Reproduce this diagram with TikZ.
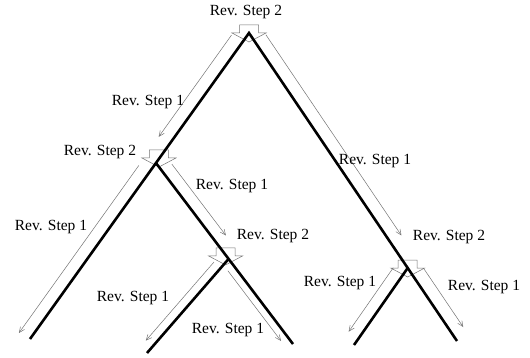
\documentclass[tikz,border=0pt]{standalone}
\usepackage{fontspec}
\setmainfont{Liberation Serif}
\usetikzlibrary{calc,arrows.meta}
\newcommand{\revarrow}[6]{%
  \coordinate (#1#2o) at ($(#1)!#5!#6:(#2)$);
  \coordinate (#1#2f) at ($(#2)+(#1#2o)-(#1)$);
  \coordinate (#1#2s) at ($(#1#2o)!#3!(#1#2f)$);
  \coordinate (#1#2e) at ($(#1#2o)!#4!(#1#2f)$);
  \draw[revline] (#1#2s) -- (#1#2e);}
\begin{document}
\begin{tikzpicture}[x=1pt,y=-1pt,
  branch/.style={line width=2.6pt,line join=miter},
  revline/.style={draw=black!55,line width=0.5pt,-{Straight Barb[length=5.5pt,width=5pt]}},
  blockarrow/.style={draw=black!55,line width=0.5pt,fill=white},
  lbl/.style={font=\fontsize{15.5}{18}\selectfont,inner sep=0pt},
  pics/revblock/.style={code={\draw[blockarrow] (-9.5,-11) -- (9.5,-11) -- (9.5,-3) -- (17,-3) -- (0,6) -- (-17,-3) -- (-9.5,-3) -- cycle;}}]
\useasboundingbox (0,0) rectangle (530,358);
% tree vertices and leaves
\coordinate (R) at (249,33);
\coordinate (LL) at (30,339);
\coordinate (CR) at (457,341);
\coordinate (A) at ($(R)!0.4248!(LL)$);
\coordinate (C) at ($(R)!0.763!(CR)$);
\coordinate (BR) at (293,344);
\coordinate (B) at ($(A)!0.53!(BR)$);
\coordinate (BL) at (147,353);
\coordinate (CL) at (354,345);
% block arrows
\pic at ($(R)+(0,3)$) {revblock};
\pic at ($(A)+(3,-2)$) {revblock};
\pic at ($(B)+(-3,0)$) {revblock};
\pic at ($(C)+(0,3)$) {revblock};
% thin arrows
\revarrow{R}{A}{12pt}{137pt}{13pt}{-90}
\revarrow{R}{C}{11pt}{253pt}{13pt}{90}
\revarrow{A}{LL}{12pt}{218pt}{12.5pt}{-90}
\revarrow{A}{B}{10.5pt}{100pt}{12pt}{90}
\revarrow{B}{BL}{12pt}{116pt}{9pt}{-90}
\revarrow{B}{BR}{9pt}{97pt}{7.7pt}{-90}
\revarrow{C}{CL}{8pt}{86pt}{12pt}{-90}
\revarrow{C}{CR}{10pt}{80pt}{13pt}{90}
% thick branches
\draw[branch] (LL) -- (R) -- (CR);
\draw[branch] (A) -- (BR);
\draw[branch] (BL) -- (B);
\draw[branch] (CL) -- (C);
% labels
\node[lbl] (l1) at (246,12) {Rev. Step 2};
\node[lbl] (l2) at (148,102) {Rev. Step 1};
\node[lbl] (l3) at (375,161) {Rev. Step 1};
\node[lbl] (l4) at (100,152) {Rev. Step 2};
\node[lbl] (l5) at (232,186) {Rev. Step 1};
\node[lbl] (l6) at (51,227) {Rev. Step 1};
\node[lbl] (l7) at (273,236) {Rev. Step 2};
\node[lbl] (l8) at (133,298) {Rev. Step 1};
\node[lbl] (l9) at (228,330) {Rev. Step 1};
\node[lbl] (l10) at (449,237) {Rev. Step 2};
\node[lbl] (l11) at (340,283) {Rev. Step 1};
\node[lbl] (l12) at (484,287) {Rev. Step 1};
\end{tikzpicture}
\end{document}
